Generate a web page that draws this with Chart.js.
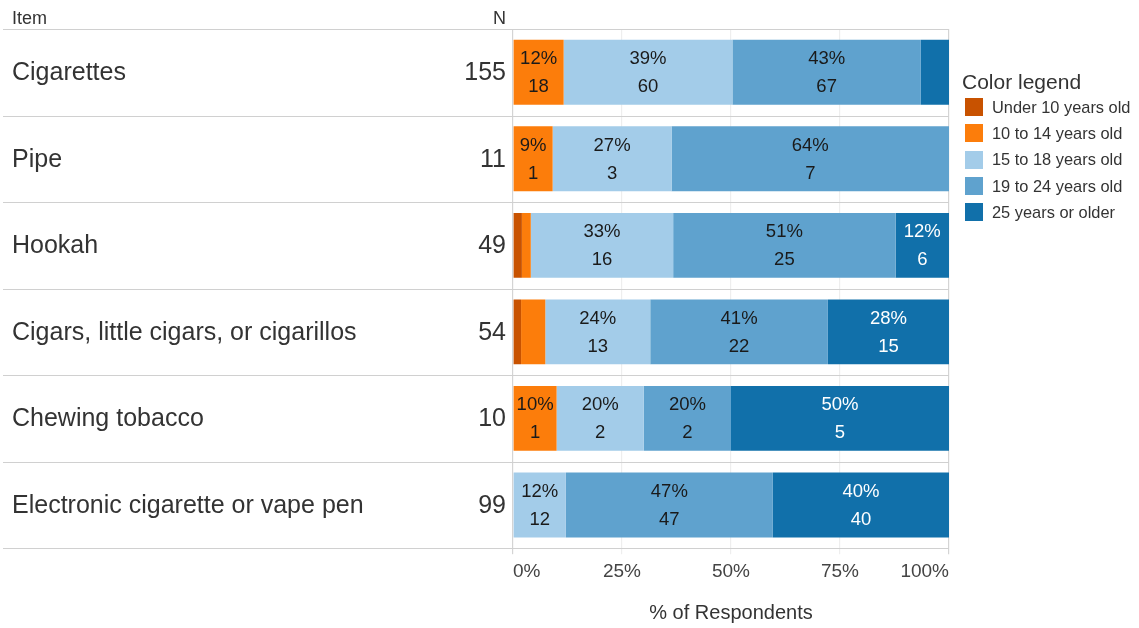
<!DOCTYPE html>
<html>
<head>
<meta charset="utf-8">
<script src="https://cdn.jsdelivr.net/npm/chart.js@4/dist/chart.umd.min.js"></script>
<style>
    body { margin: 0; background: #fff; font-family: "Liberation Sans", Arial, sans-serif; }
    #wrap { position: relative; width: 1139px; height: 628px; }
    #legend { position: absolute; left: 962px; top: 70px; color: #333; }
    #legend .title { font-size: 21px; margin-bottom: 0px; }
    #legend .row { display: flex; align-items: center; height: 26.3px; font-size: 16.4px; }
    #legend .box { width: 18px; height: 18px; margin: 0 9px 0 3px; }
</style>
</head>
<body>
<div id="wrap">
    <canvas id="chart" width="1139" height="628"></canvas>
    <div id="legend"><div class="title">Color legend</div></div>
</div>
<script>
var items = ['Cigarettes', 'Pipe', 'Hookah', 'Cigars, little cigars, or cigarillos', 'Chewing tobacco', 'Electronic cigarette or vape pen'];
var totals = [155, 11, 49, 54, 10, 99];
var groups = ['Under 10 years old', '10 to 14 years old', '15 to 18 years old', '19 to 24 years old', '25 years or older'];
var colors = ['#c85200', '#fc7d0b', '#a3cce9', '#5fa2ce', '#1170aa'];
var textColors = ['#1a1a1a', '#1a1a1a', '#1a1a1a', '#1a1a1a', '#ffffff'];

// counts per age group, one value per item
var under10 = [0, 0, 1, 1, 0, 0];
var age10to14 = [18, 1, 1, 3, 1, 0];
var age15to18 = [60, 3, 16, 13, 2, 12];
var age19to24 = [67, 7, 25, 22, 2, 47];
var age25plus = [10, 0, 6, 15, 5, 40];
var counts = [under10, age10to14, age15to18, age19to24, age25plus];

var xTicks = [0, 25, 50, 75, 100];

var datasets = [];
for (var g = 0; g < groups.length; g++) {
    var pct = [];
    for (var i = 0; i < items.length; i++) {
        pct.push(counts[g][i] / totals[i] * 100);
    }
    datasets.push({
        label: groups[g],
        data: pct,
        backgroundColor: colors[g],
        borderWidth: 0,
        barPercentage: 0.75,
        categoryPercentage: 1
    });
}

// legend
var leg = document.getElementById('legend');
for (var g = 0; g < groups.length; g++) {
    var row = document.createElement('div');
    row.className = 'row';
    row.innerHTML = '<div class="box" style="background:' + colors[g] + '"></div>' + groups[g];
    leg.appendChild(row);
}

var tablePlugin = {
    id: 'tablePlugin',
    afterDraw: function (chart) {
        var ctx = chart.ctx,
            area = chart.chartArea,
            y = chart.scales.y;
        ctx.save();
        // row separators
        ctx.strokeStyle = '#d0d0d0';
        ctx.lineWidth = 1.2;
        var half = (y.getPixelForValue(1) - y.getPixelForValue(0)) / 2;
        for (var i = 0; i <= items.length; i++) {
            var py = i < items.length ? y.getPixelForValue(i) - half : y.getPixelForValue(items.length - 1) + half;
            ctx.beginPath();
            ctx.moveTo(3, Math.round(py) + 0.5);
            ctx.lineTo(area.right, Math.round(py) + 0.5);
            ctx.stroke();
        }
        // header
        ctx.fillStyle = '#333';
        ctx.font = '18px "Liberation Sans", Arial, sans-serif';
        ctx.textBaseline = 'middle';
        ctx.textAlign = 'left';
        ctx.fillText('Item', 12, 19);
        ctx.textAlign = 'right';
        ctx.fillText('N', 506, 19);
        // item names and N
        ctx.font = '25px "Liberation Sans", Arial, sans-serif';
        for (var i = 0; i < items.length; i++) {
            var cy = y.getPixelForValue(i) + 1;
            ctx.textAlign = 'left';
            ctx.fillText(items[i], 12, cy);
            ctx.textAlign = 'right';
            ctx.fillText(String(totals[i]), 506, cy);
        }
        // bar labels
        ctx.font = '18.5px "Liberation Sans", Arial, sans-serif';
        ctx.textAlign = 'center';
        chart.data.datasets.forEach(function (ds, g) {
            var meta = chart.getDatasetMeta(g);
            meta.data.forEach(function (bar, i) {
                var v = ds.data[i];
                if (v < 8) return;
                var cx = (bar.x + bar.base) / 2;
                ctx.fillStyle = textColors[g];
                ctx.fillText(Math.round(v) + '%', cx, bar.y - 13);
                ctx.fillText(String(counts[g][i]), cx, bar.y + 15);
            });
        });
        ctx.restore();
    }
};

new Chart(document.getElementById('chart'), {
    type: 'bar',
    data: { labels: items, datasets: datasets },
    plugins: [tablePlugin],
    options: {
        indexAxis: 'y',
        responsive: false,
        animation: false,
        layout: { padding: { left: 513, right: 190, top: 29, bottom: 3 } },
        plugins: { legend: { display: false }, tooltip: { enabled: false } },
        scales: {
            x: {
                stacked: true,
                min: 0,
                max: 100,
                afterBuildTicks: function (axis) {
                    axis.ticks = xTicks.map(function (v) { return { value: v }; });
                },
                border: { display: false },
                grid: {
                    tickLength: 6,
                    lineWidth: 1.2,
                    color: function (c) {
                        var v = c.tick ? c.tick.value : 0;
                        return (v === 0 || v === 100) ? '#d4d4d4' : '#eeeeee';
                    }
                },
                ticks: {
                    align: 'inner',
                    padding: 6,
                    color: '#444',
                    font: { family: '"Liberation Sans", Arial, sans-serif', size: 19 },
                    callback: function (v) { return v + '%'; }
                },
                title: {
                    display: true,
                    text: '% of Respondents',
                    color: '#333',
                    padding: { top: 12, bottom: 0 },
                    font: { family: '"Liberation Sans", Arial, sans-serif', size: 20 }
                }
            },
            y: {
                stacked: true,
                display: false
            }
        }
    }
});
</script>
</body>
</html>
